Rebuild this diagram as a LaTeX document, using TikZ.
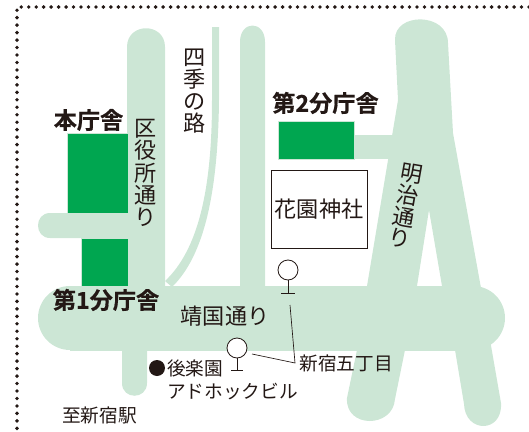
\documentclass[tikz,border=0pt]{standalone}
\usepackage{fontspec}
\setmainfont{Noto Sans CJK JP}
\newfontfamily\heavyfont[FakeBold=0.6]{Noto Sans CJK JP Bold}
\definecolor{roadc}{HTML}{CCE6D5}
\definecolor{bldg}{HTML}{00A650}
\definecolor{ink}{HTML}{231815}
\tikzset{
  road/.style={fill=roadc,draw=none},
  hall/.style={fill=bldg,draw=roadc,line width=.4pt},
  lbl/.style={inner sep=0pt,text=ink,font=\fontsize{14}{14}\selectfont},
  biglbl/.style={inner sep=0pt,text=ink,font=\fontsize{16.6}{16.6}\selectfont,align=center},
  boldlbl/.style={inner sep=0pt,text=ink,font=\heavyfont\fontsize{17.4}{17.4}\selectfont},
  wire/.style={draw=ink,line width=.5pt},
  stationmark/.style={circle,draw=ink,fill=white,line width=.6pt,minimum size=15pt,inner sep=0pt},
}
\begin{document}
\begin{tikzpicture}[x=0.75pt,y=-0.75pt]
\useasboundingbox (0,0) rectangle (529,432);
% dotted border
\draw[ink,line width=2.9pt,line cap=round,dash pattern=on 0pt off 5.6pt] (529,7) -- (17,7) -- (17,432);
% roads
\path[road] (127,290) -- (127,47) .. controls (127,22) and (165,22) .. (165,47) -- (165,290) -- cycle;
\path[road] (127,213) -- (50,213) .. controls (34,213) and (34,238) .. (50,238) -- (127,238) -- cycle;
\path[road] (240,290) -- (240,42) .. controls (240,20) and (265,20) .. (265,42) -- (265,290) -- cycle;
\path[road] (70,286) rectangle (473,350.5);
\path[road] (70,318) circle[radius=24pt];
\path[road] (473,318) circle[radius=24pt];
\path[road] (122,345) -- (122,383) .. controls (122,400) and (147,400) .. (147,383) -- (147,345) -- cycle;
\path[road] (219,27) -- (219,100) .. controls (218,190) and (205,255) .. (172,287) -- (165,281) .. controls (198,250) and (212,190) .. (212,100) -- (212,27) -- cycle;
\path[road] (354,135) rectangle (396,159);
\path[road] (395,40) .. controls (394,12) and (448,12) .. (448,43) -- (453,133) -- (481,288) -- (501,403)
  .. controls (503,433.5) and (465,433.5) .. (464,404) -- (455,350) -- (442,286) -- (429,210) -- (417,286) -- (405,350) -- (395,399)
  .. controls (393,428.5) and (345,428.5) .. (347,398) -- (357,350) -- (367,286) -- (398,100) -- cycle;
% buildings
\path[hall] (67,133) rectangle (128,213);
\path[hall] (81,238) rectangle (128,286);
\path[hall] (278,121) rectangle (354,159);
\draw[draw=ink,fill=white,line width=.6pt] (271,170) rectangle (367,248);
% labels
\node[biglbl] (shrine) at (319,209) {花園神社};
\node[boldlbl] (honcho) at (88.5,120) {本庁舎};
\node[boldlbl] (dai1) at (106,300) {第1分庁舎};
\node[boldlbl] (dai2) at (325.5,103) {第2分庁舎};
\node[biglbl] (kuyakusho) at (146,173) {区\\役\\所\\通\\り};
\node[biglbl] (shiki) at (195,91) {四\\季\\の\\路};
\node[biglbl,rotate=-10] (meiji) at (406,206) {明\\治\\通\\り};
\node[biglbl] (yasukuni) at (225,316) {靖国通り};
\node[lbl] (gochome) at (346,363) {新宿五丁目};
\node[lbl,anchor=west] (korakuen) at (167,368) {後楽園};
\node[lbl,anchor=west] (adhoc) at (167,392) {アドホックビル};
\node[lbl] (shinjuku) at (99.5,415) {至新宿駅};
\node[circle,fill=ink,minimum size=12pt,inner sep=0pt] (dot) at (157,368) {};
% station marks
\node[stationmark] (st1) at (288,270) {};
\node[stationmark] (st2) at (237,348) {};
\coordinate (st1foot) at (288,293);
\coordinate (st1l) at (281,293);
\coordinate (st1r) at (295,293);
\coordinate (st2foot) at (237,370);
\coordinate (st2l) at (231,370);
\coordinate (st2r) at (243,370);
\draw[wire] (st1) -- (st1foot);
\draw[wire] (st1l) -- (st1r);
\draw[wire] (st2) -- (st2foot);
\draw[wire] (st2l) -- (st2r);
% leaders
\coordinate (lead1) at (290,305);
\coordinate (leadj) at (295,363);
\coordinate (lead2) at (252,354);
\draw[wire] (lead1) -- (leadj) -- (lead2);
\end{tikzpicture}
\end{document}
